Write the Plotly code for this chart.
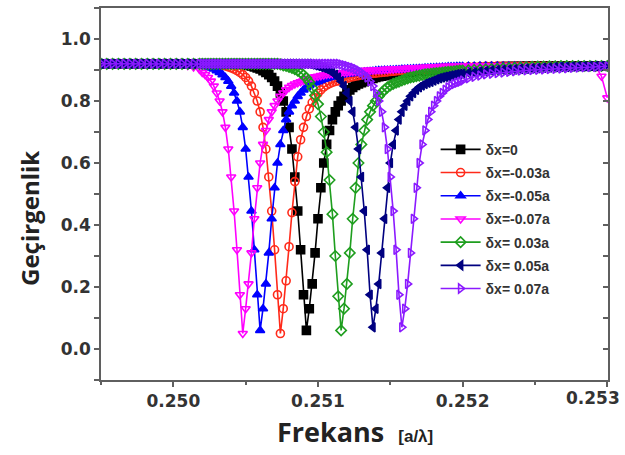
import plotly.graph_objects as go

# frequency grid (a/lambda)
freq = [0.24950, 0.24954, 0.24958, 0.24962, 0.24966, 0.24970, 0.24974, 0.24978, 0.24982,
        0.24986, 0.24990, 0.24994, 0.24998, 0.25002, 0.25006, 0.25010, 0.25014, 0.25018,
        0.25020, 0.25022, 0.25024, 0.25026, 0.25028, 0.25030, 0.25032, 0.25034, 0.25036, 0.25038,
        0.25040, 0.25042, 0.25044, 0.25046, 0.25048, 0.25050, 0.25052, 0.25054, 0.25056, 0.25058,
        0.25060, 0.25062, 0.25064, 0.25066, 0.25068, 0.25070, 0.25072, 0.25074, 0.25076, 0.25078,
        0.25080, 0.25082, 0.25084, 0.25086, 0.25088, 0.25090, 0.25092, 0.25094, 0.25096, 0.25098,
        0.25100, 0.25102, 0.25104, 0.25106, 0.25108, 0.25110, 0.25112, 0.25114, 0.25116, 0.25118,
        0.25120, 0.25122, 0.25124, 0.25126, 0.25128, 0.25130, 0.25132, 0.25134, 0.25136, 0.25138,
        0.25140, 0.25142, 0.25144, 0.25146, 0.25148, 0.25150, 0.25152, 0.25154, 0.25156, 0.25158,
        0.25160, 0.25162, 0.25164, 0.25166, 0.25168, 0.25170, 0.25172, 0.25174, 0.25176, 0.25178,
        0.25180, 0.25182, 0.25184, 0.25186, 0.25188, 0.25190, 0.25192, 0.25194, 0.25196, 0.25198,
        0.25200,
        0.25204, 0.25208, 0.25212, 0.25216, 0.25220, 0.25224, 0.25228, 0.25232, 0.25236, 0.25240,
        0.25244, 0.25248, 0.25252, 0.25256, 0.25260, 0.25264, 0.25268, 0.25272, 0.25276, 0.25280,
        0.25284, 0.25288, 0.25292, 0.25296, 0.25300]

t_dx0 = ([0.92] * 18 + [0.92] * 15
         + [0.918, 0.915, 0.913, 0.91, 0.907, 0.903, 0.898]
         + [0.892, 0.885, 0.876, 0.864, 0.848, 0.826, 0.80, 0.765, 0.715, 0.645, 0.555, 0.445,
            0.32, 0.175, 0.06, 0.13, 0.21, 0.31, 0.42, 0.52, 0.60, 0.66, 0.705, 0.74, 0.765,
            0.785, 0.80, 0.815, 0.826, 0.836, 0.844, 0.85, 0.855, 0.859, 0.862]
         + [0.866, 0.87, 0.873, 0.876, 0.878, 0.88, 0.882, 0.884, 0.886, 0.887, 0.888, 0.889,
            0.89, 0.891, 0.892, 0.893, 0.894, 0.895, 0.896, 0.897, 0.898, 0.898, 0.899, 0.899,
            0.90, 0.90, 0.901, 0.901, 0.902, 0.902, 0.903, 0.903, 0.904, 0.904]
         + [0.905, 0.906, 0.907, 0.908, 0.909, 0.91, 0.911, 0.911, 0.912, 0.912] + [0.913] * 15)

t_m003 = ([0.92] * 18 + [0.92] * 6
          + [0.918, 0.915, 0.913, 0.91, 0.907, 0.903, 0.898]
          + [0.892, 0.885, 0.876, 0.864, 0.848, 0.826, 0.80, 0.765, 0.715, 0.645, 0.555, 0.445,
             0.32, 0.175, 0.05, 0.13, 0.22, 0.33, 0.44, 0.54, 0.62, 0.675, 0.715, 0.75, 0.775,
             0.795, 0.81, 0.825, 0.836, 0.845, 0.851, 0.856, 0.86, 0.863, 0.865]
          + [0.867, 0.87, 0.873, 0.876, 0.878, 0.88, 0.882, 0.884, 0.886, 0.887, 0.888, 0.889,
             0.89, 0.891, 0.892, 0.893, 0.894, 0.895, 0.896, 0.897, 0.898, 0.898, 0.899, 0.899,
             0.90, 0.90, 0.901, 0.901, 0.902, 0.902, 0.903, 0.903, 0.904, 0.904, 0.905, 0.905,
             0.906, 0.906, 0.907, 0.907, 0.908, 0.908, 0.909]
          + [0.91, 0.91, 0.911, 0.912, 0.912] + [0.913] * 20)

t_m005 = ([0.92] * 18
          + [0.915, 0.913, 0.91, 0.907, 0.903, 0.898]
          + [0.892, 0.885, 0.876, 0.864, 0.848, 0.826, 0.80, 0.765, 0.715, 0.645, 0.555, 0.445,
             0.32, 0.175, 0.06, 0.13, 0.21, 0.31, 0.42, 0.52, 0.60, 0.66, 0.705, 0.74, 0.765,
             0.785, 0.80, 0.815, 0.826, 0.836, 0.844, 0.85, 0.855, 0.859, 0.862]
          + [0.866, 0.87, 0.873, 0.876, 0.878, 0.88, 0.882, 0.884, 0.886, 0.887, 0.888, 0.889,
             0.89, 0.891, 0.892, 0.893, 0.894, 0.895, 0.896, 0.897, 0.898, 0.898, 0.899, 0.899,
             0.90, 0.90, 0.901, 0.901, 0.902, 0.902, 0.903, 0.903, 0.904, 0.904, 0.905, 0.905,
             0.906, 0.906, 0.907, 0.907, 0.908, 0.908, 0.909, 0.909, 0.91, 0.91, 0.91, 0.911,
             0.911, 0.911]
          + [0.912, 0.912] + [0.913] * 23)

t_m007 = ([0.92] * 15 + [0.915, 0.91, 0.903]
          + [0.892, 0.885, 0.876, 0.864, 0.848, 0.826, 0.80, 0.765, 0.715, 0.645, 0.555, 0.445,
             0.32, 0.175, 0.05, 0.13, 0.21, 0.31, 0.42, 0.52, 0.60, 0.66, 0.705, 0.74, 0.765,
             0.785, 0.80, 0.815, 0.826, 0.836, 0.844, 0.85, 0.855, 0.859, 0.862]
          + [0.866, 0.87, 0.873, 0.876, 0.878, 0.88, 0.882, 0.884, 0.886, 0.887, 0.888, 0.889,
             0.89, 0.891, 0.892, 0.893, 0.894, 0.895, 0.896, 0.897, 0.898, 0.898, 0.899, 0.899,
             0.90, 0.90, 0.901, 0.901, 0.902, 0.902, 0.903, 0.903, 0.904, 0.904, 0.905, 0.905,
             0.906, 0.906, 0.907, 0.907, 0.908, 0.908, 0.909, 0.909, 0.91, 0.91, 0.91, 0.911,
             0.911, 0.911, 0.912, 0.912, 0.912, 0.912, 0.913, 0.913]
          + [0.913] * 22 + [0.91, 0.88, 0.81])

t_p003 = ([0.92] * 18 + [0.92] * 27
          + [0.918, 0.915, 0.913, 0.91, 0.907, 0.903, 0.898]
          + [0.892, 0.884, 0.874, 0.861, 0.842, 0.818, 0.79, 0.75, 0.70, 0.635, 0.545, 0.435,
             0.30, 0.17, 0.06, 0.13, 0.21, 0.31, 0.42, 0.52, 0.60, 0.66, 0.705, 0.74, 0.765,
             0.785, 0.80, 0.815, 0.826, 0.836, 0.844, 0.85, 0.855, 0.859, 0.862]
          + [0.866, 0.87, 0.873, 0.876, 0.878, 0.88, 0.882, 0.884, 0.886, 0.887, 0.888, 0.889,
             0.89, 0.891, 0.892, 0.893, 0.894, 0.895, 0.896, 0.897, 0.898, 0.898]
          + [0.899, 0.90, 0.901, 0.902, 0.903, 0.904, 0.905, 0.906, 0.907, 0.908, 0.909, 0.91,
             0.911, 0.911, 0.912, 0.912] + [0.913] * 9)

t_p005 = ([0.92] * 18 + [0.92] * 38
          + [0.918, 0.915, 0.913, 0.91, 0.907, 0.903, 0.898]
          + [0.892, 0.885, 0.876, 0.864, 0.848, 0.826, 0.80, 0.765, 0.715, 0.645, 0.555, 0.445,
             0.32, 0.175, 0.07, 0.13, 0.21, 0.31, 0.42, 0.52, 0.60, 0.66, 0.705, 0.74, 0.765,
             0.785, 0.80, 0.815, 0.826, 0.836, 0.844, 0.85, 0.855, 0.859, 0.862]
          + [0.866, 0.87, 0.873, 0.876, 0.878, 0.88, 0.882, 0.884, 0.886, 0.887, 0.888]
          + [0.89, 0.892, 0.894, 0.896, 0.898, 0.899, 0.90, 0.901, 0.902, 0.903, 0.904, 0.905,
             0.906, 0.907, 0.908, 0.909, 0.91, 0.91, 0.911, 0.912, 0.912, 0.913, 0.913, 0.913,
             0.913])

t_p007 = ([0.92] * 18 + [0.92] * 48
          + [0.918, 0.915, 0.913, 0.91, 0.907, 0.903, 0.898]
          + [0.892, 0.885, 0.876, 0.864, 0.848, 0.826, 0.80, 0.765, 0.715, 0.645, 0.555, 0.445,
             0.32, 0.175, 0.07, 0.13, 0.21, 0.31, 0.42, 0.52, 0.60, 0.66, 0.705, 0.74, 0.765,
             0.785, 0.80, 0.815, 0.826, 0.836, 0.844, 0.85, 0.855, 0.859, 0.862]
          + [0.866]
          + [0.873, 0.878, 0.882, 0.886, 0.888, 0.89, 0.892, 0.894, 0.896, 0.898, 0.899, 0.90,
             0.901, 0.902, 0.903, 0.904, 0.905, 0.906, 0.907, 0.908, 0.909, 0.91, 0.91, 0.911,
             0.912])

series_names = ["δx=0", "δx=-0.03a", "δx=-0.05a", "δx=-0.07a", "δx= 0.03a", "δx= 0.05a", "δx= 0.07a"]
series_vals = [t_dx0, t_m003, t_m005, t_m007, t_p003, t_p005, t_p007]
colors = ["#000000", "#FF2A1A", "#0000FF", "#FF00FF", "#1E9E1E", "#000080", "#8B1AFF"]
symbols = ["square", "circle-open", "triangle-up", "triangle-down-open",
           "diamond-open", "triangle-left", "triangle-right-open"]
x_ticks = [0.250, 0.251, 0.252, 0.253]
x_tick_labels = ["0.250", "0.251", "0.252", "0.253"]
y_ticks = [0.0, 0.2, 0.4, 0.6, 0.8, 1.0]

for v in series_vals:
    assert len(v) == len(freq), (len(v), len(freq))

fig = go.Figure()
for i, (nm, v) in enumerate(zip(series_names, series_vals)):
    fig.add_trace(go.Scatter(
        x=freq, y=v, name=nm, mode="lines+markers", legendgroup=f"g{i}",
        line=dict(color=colors[i], width=1.6),
        marker=dict(symbol=symbols[i], size=8, color=colors[i],
                    line=dict(color=colors[i], width=1.6)),
    ))
# invisible helper trace for the right-hand axis
fig.add_trace(go.Scatter(x=[0.2495], y=[0.5], yaxis="y2", mode="markers",
                         marker=dict(opacity=0), showlegend=False, hoverinfo="skip"))

tickfont = dict(family="DejaVu Sans", size=17, color="#333333", weight="bold")
axcol = "#5f5f5f"
# the last x label sits left of its tick (kept inside the picture), drawn separately
x_text_main = x_tick_labels[:-1] + [""]
fig.update_layout(
    width=625, height=455,
    margin=dict(l=101, r=17, t=6, b=75),
    paper_bgcolor="white", plot_bgcolor="white",
    showlegend=True,
    legend=dict(x=0.66, y=0.662, xanchor="left", yanchor="top",
                bgcolor="rgba(0,0,0,0)", tracegroupgap=2,
                font=dict(family="Liberation Sans", size=14, color="#333333", weight="bold"),
                itemwidth=40),
    xaxis=dict(range=[0.2495, 0.253005], tickvals=x_ticks, ticktext=x_text_main,
               ticks="outside", ticklen=5, tickwidth=1.5, tickcolor=axcol,
               minor=dict(dtick=0.0005, ticks="outside", ticklen=3, tickcolor=axcol, tickwidth=1.5),
               showline=True, linecolor=axcol, linewidth=1.5, mirror=True,
               showgrid=False, zeroline=False, tickfont=tickfont),
    yaxis=dict(range=[-0.1, 1.1], tickvals=y_ticks, tickformat=".1f",
               ticks="outside", ticklen=5, tickwidth=1.5, tickcolor=axcol,
               minor=dict(dtick=0.1, ticks="outside", ticklen=5, tickcolor=axcol, tickwidth=1.5),
               showline=True, linecolor=axcol, linewidth=1.5, mirror=True,
               showgrid=False, zeroline=False, tickfont=tickfont),
    yaxis2=dict(range=[-0.1, 1.1], overlaying="y", side="right", anchor="x",
                tickvals=y_ticks, showticklabels=False,
                ticks="inside", ticklen=5, tickwidth=1.5, tickcolor=axcol,
                minor=dict(dtick=0.1, ticks="inside", ticklen=5, tickcolor=axcol, tickwidth=1.5),
                showline=True, linecolor=axcol, linewidth=1.5,
                showgrid=False, zeroline=False),
    annotations=[
        dict(text=x_tick_labels[-1], xref="x", yref="paper", x=x_ticks[-1], y=-0.048,
             xanchor="right", yanchor="middle", xshift=15, showarrow=False, font=tickfont),
        dict(text="<b>Frekans</b>  <span style='font-size:17px;font-family:Liberation Sans'><b>[a/λ]</b></span>",
             xref="paper", yref="paper", x=0.5, y=-0.139, xanchor="center", yanchor="middle",
             showarrow=False, font=dict(family="Open Sans", size=27, color="#222222")),
        dict(text="<b>Geçirgenlik</b>", textangle=-90,
             xref="paper", yref="paper", x=-0.14, y=0.433, xanchor="center", yanchor="middle",
             showarrow=False, font=dict(family="Open Sans", size=24, color="#222222")),
    ],
)
fig.write_html("out.html")
